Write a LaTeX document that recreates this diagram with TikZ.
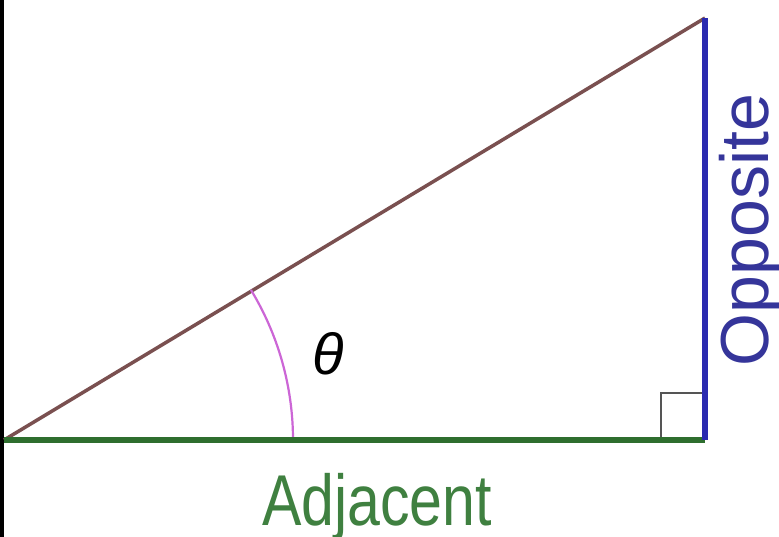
\documentclass[tikz,border=0pt]{standalone}
\usepackage{fontspec}
\setmainfont{Liberation Sans}
\definecolor{hypc}{HTML}{7A5050}
\definecolor{adjc}{HTML}{2E6E2E}
\definecolor{adjt}{HTML}{3F8040}
\definecolor{oppc}{HTML}{2A2AB0}
\definecolor{oppt}{HTML}{35359A}
\definecolor{arcc}{HTML}{CC66D6}
\definecolor{sqc}{HTML}{555555}
\tikzset{
  hyp/.style={draw=hypc, line width=3.5pt},
  adjline/.style={draw=adjc, line width=5.5pt},
  oppline/.style={draw=oppc, line width=5.5pt},
  anglearc/.style={draw=arcc, line width=2.2pt},
  rightsq/.style={draw=sqc, line width=2.8pt},
  lbl/.style={inner sep=0pt, outer sep=0pt}
}
\begin{document}
\begin{tikzpicture}[x=1pt,y=-1pt]
\useasboundingbox (0,0) rectangle (779,537);
\fill[white] (0,0) rectangle (779,537);
\fill[black] (0,0) rectangle (3.5,537);
\coordinate (A) at (4,440);
\coordinate (C) at (705,440);
\coordinate (B) at (705,18);
\coordinate (S1) at (661,440);
\coordinate (S2) at (661,393);
\coordinate (S3) at (705,393);
\draw[rightsq] (S1) -- (S2) -- (S3);
\draw[hyp] (A) -- (B);
\draw[anglearc] (293,440) arc[start angle=0, end angle=-31.3, radius=289];
\draw[adjline] (A) -- (C);
\draw[oppline, line cap=square] (C) -- (B);
\node[lbl, anchor=base, xscale=0.82, text=adjt, font=\fontsize{72}{80}\selectfont] (adj) at (377,525) {Adjacent};
\node[lbl, anchor=base, rotate=90, text=oppt, font=\fontsize{68}{75}\selectfont] (opp) at (768,230) {Opposite};
\node[lbl, text=black, font=\itshape\fontsize{58}{70}\selectfont] (th) at (328,354) {θ};
\end{tikzpicture}
\end{document}
